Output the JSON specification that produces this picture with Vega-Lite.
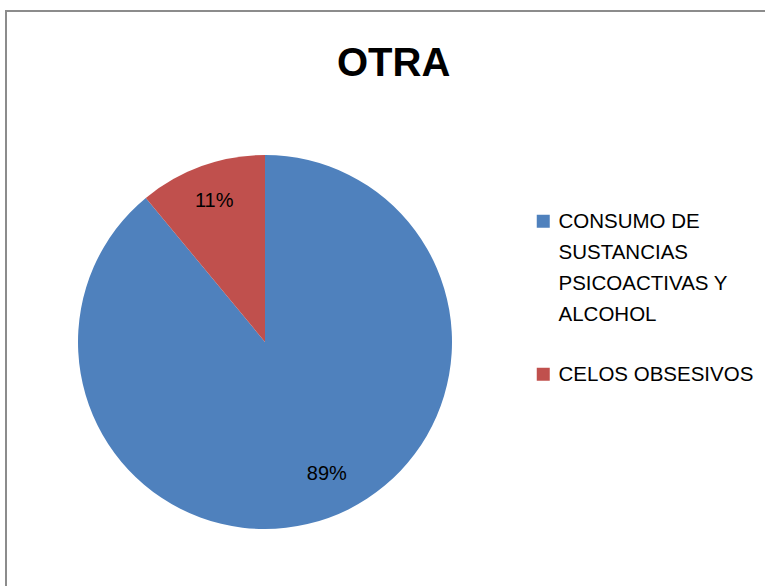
{
  "$schema": "https://vega.github.io/schema/vega-lite/v6.json",
  "width": 800,
  "height": 620,
  "autosize": {"type": "none"},
  "padding": {"left": 6, "top": 11, "right": 0, "bottom": 0},
  "background": "white",
  "title": {
    "text": "OTRA",
    "font": "Liberation Sans",
    "fontSize": 40,
    "fontWeight": "bold",
    "color": "#000000",
    "anchor": "start",
    "dx": 332,
    "offset": -74
  },
  "data": {
    "values": [
      {"categoria": "CONSUMO DE SUSTANCIAS PSICOACTIVAS Y ALCOHOL", "valor": 89, "orden": 1, "etiqueta": "89%"},
      {"categoria": "CELOS OBSESIVOS", "valor": 11, "orden": 2, "etiqueta": "11%"}
    ]
  },
  "layer": [
    {
      "mark": {"type": "rect", "x": 0, "y": 0, "x2": "width", "y2": "height", "fill": null, "stroke": "#8c8c8c", "strokeWidth": 2},
      "encoding": {}
    },
    {
      "mark": {"type": "arc", "outerRadius": 187, "x": 259, "y": 331, "stroke": null},
      "encoding": {
        "theta": {"field": "valor", "type": "quantitative", "stack": true},
        "order": {"field": "orden", "type": "quantitative"},
        "color": {
          "field": "categoria",
          "type": "nominal",
          "scale": {
            "domain": ["CONSUMO DE SUSTANCIAS PSICOACTIVAS Y ALCOHOL", "CELOS OBSESIVOS"],
            "range": ["#4F81BD", "#C0504D"]
          },
          "legend": {
            "title": null,
            "orient": "none",
            "legendX": 527,
            "legendY": 200,
            "padding": 0,
            "symbolType": "square",
            "symbolSize": 169,
            "symbolStrokeWidth": 0,
            "labelFont": "Liberation Sans",
            "labelFontSize": 20.5,
            "labelColor": "#000000",
            "labelLimit": 400,
            "labelOffset": 5,
            "labelBaseline": "alphabetic",
            "rowPadding": 38,
            "labelExpr": "datum.label == 'CELOS OBSESIVOS' ? datum.label : ['CONSUMO DE', 'SUSTANCIAS', 'PSICOACTIVAS Y', 'ALCOHOL']"
          }
        }
      }
    },
    {
      "mark": {"type": "text", "radius": 150, "x": 259, "y": 331, "font": "Liberation Sans", "fontSize": 20, "color": "#000000"},
      "encoding": {
        "theta": {"field": "valor", "type": "quantitative", "stack": true},
        "order": {"field": "orden", "type": "quantitative"},
        "text": {"condition": {"test": "datum.orden == 2", "field": "etiqueta"}, "value": ""}
      }
    },
    {
      "mark": {"type": "text", "radius": 150, "x": 259, "y": 331, "dx": 11, "dy": -9, "font": "Liberation Sans", "fontSize": 20, "color": "#000000"},
      "encoding": {
        "theta": {"field": "valor", "type": "quantitative", "stack": true},
        "order": {"field": "orden", "type": "quantitative"},
        "text": {"condition": {"test": "datum.orden == 1", "field": "etiqueta"}, "value": ""}
      }
    }
  ],
  "config": {
    "view": {"stroke": null},
    "style": {"guide-label": {"lineHeight": 31, "dy": 7}}
  }
}
